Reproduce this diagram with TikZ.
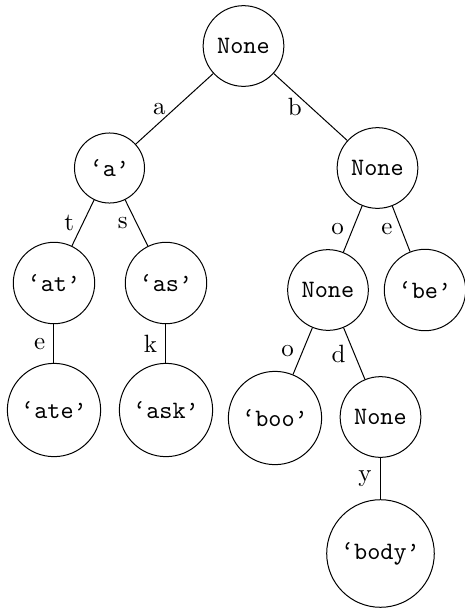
\documentclass[tikz,border=0pt]{standalone}
\begin{document}
\begin{tikzpicture}[x=0.4pt,y=-0.4pt,
  tn/.style={draw,circle,inner sep=4pt,font=\ttfamily},
  lbl/.style={midway,left,font=\rmfamily}]
\useasboundingbox (0,0) rectangle (465,609);
\node[tn] (root) at (243.5,46) {None};
\node[tn] (na) at (109.5,168) {‘a’};
\node[tn] (nb) at (377.5,168) {None};
\node[tn] (nat) at (54,283) {‘at’};
\node[tn] (nas) at (166,283) {‘as’};
\node[tn] (nbo) at (328,290) {None};
\node[tn] (nbe) at (425,290) {‘be’};
\node[tn] (nate) at (54,410) {‘ate’};
\node[tn] (nask) at (166,410) {‘ask’};
\node[tn] (nboo) at (275,418) {‘boo’};
\node[tn] (nbod) at (380.5,417) {None};
\node[tn] (nbody) at (380.5,553.5) {‘body’};
\draw (root) -- node[lbl]{a} (na);
\draw (root) -- node[lbl]{b} (nb);
\draw (na) -- node[lbl]{t} (nat);
\draw (na) -- node[lbl]{s} (nas);
\draw (nb) -- node[lbl]{o} (nbo);
\draw (nb) -- node[lbl]{e} (nbe);
\draw (nat) -- node[lbl]{e} (nate);
\draw (nas) -- node[lbl]{k} (nask);
\draw (nbo) -- node[lbl]{o} (nboo);
\draw (nbo) -- node[lbl]{d} (nbod);
\draw (nbod) -- node[lbl]{y} (nbody);
\end{tikzpicture}
\end{document}
